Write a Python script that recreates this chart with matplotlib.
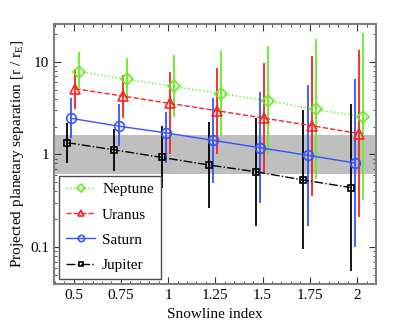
import matplotlib
matplotlib.use("Agg")
import matplotlib.pyplot as plt
from matplotlib.ticker import MultipleLocator, FixedLocator, FixedFormatter, LogLocator, NullFormatter
import numpy as np

plt.rcParams['font.family'] = ['Liberation Serif', 'DejaVu Serif']
plt.rcParams['mathtext.fontset'] = 'custom'
plt.rcParams['mathtext.rm'] = 'Liberation Serif'
plt.rcParams['mathtext.it'] = 'Liberation Serif:italic'

snowline = [0.5, 0.75, 1.0, 1.25, 1.5, 1.75, 2.0]
tick_labels = ["0.5", "0.75", "1", "1.25", "1.5", "1.75", "2"]

names = ["Neptune", "Uranus", "Saturn", "Jupiter"]
offsets = [0.03, 0.01, -0.012, -0.034]
colors = ["#66ee22", "#ff2020", "#3355ff", "black"]
styles = [":", "--", "-", "-."]
markers = ["D", "^", "o", "s"]
msizes = [6, 7, 7, 5]

neptune = [7.8, 6.44, 5.42, 4.52, 3.79, 3.06, 2.55]
neptune_hi = [12.7, 11.0, 11.7, 13.0, 14.7, 17.4, 20.2]
neptune_lo = [5.25, 3.92, 2.55, 1.58, 0.98, 0.54, 0.32]

uranus = [5.11, 4.26, 3.55, 2.96, 2.46, 2.04, 1.68]
uranus_hi = [8.26, 7.24, 7.7, 8.6, 9.7, 11.5, 13.3]
uranus_lo = [3.06, 2.49, 1.02, 1.0, 0.63, 0.355, 0.21]

saturn = [2.45, 2.02, 1.71, 1.42, 1.18, 0.98, 0.81]
saturn_hi = [4.02, 3.46, 2.89, 4.08, 4.7, 5.55, 6.44]
saturn_lo = [1.51, 1.23, 0.80, 0.495, 0.30, 0.171, 0.10]

jupiter = [1.34, 1.12, 0.93, 0.77, 0.65, 0.53, 0.44]
jupiter_hi = [2.2, 1.89, 2.02, 2.23, 2.49, 2.98, 3.52]
jupiter_lo = [0.81, 0.66, 0.437, 0.266, 0.168, 0.095, 0.056]

values = [neptune, uranus, saturn, jupiter]
highs = [neptune_hi, uranus_hi, saturn_hi, jupiter_hi]
lows = [neptune_lo, uranus_lo, saturn_lo, jupiter_lo]

band = (0.61, 1.64)

fig = plt.figure(figsize=(4.15, 3.24), dpi=100)
ax = fig.add_axes([0.130, 0.123, 0.776, 0.803])

ax.axhspan(band[0], band[1], color="0.75", lw=0, zorder=0)

for i in range(len(names)):
    x = np.array(snowline) + offsets[i]
    y = np.array(values[i])
    ax.vlines(x, lows[i], highs[i], color=colors[i], lw=1.3, zorder=2)
    ax.plot(x, y, linestyle=styles[i], color=colors[i], lw=1.0,
            marker=markers[i], markersize=msizes[i], markerfacecolor="none",
            markeredgewidth=1.2, label=names[i], zorder=3)

ax.set_yscale("log")
ax.set_xlim(0.396, 2.1)
ax.set_ylim(0.04, 25.5)

ax.xaxis.set_major_locator(FixedLocator(snowline))
ax.xaxis.set_major_formatter(FixedFormatter(tick_labels))
ax.xaxis.set_minor_locator(MultipleLocator(0.05))
ax.yaxis.set_major_locator(FixedLocator([0.1, 1, 10]))
ax.yaxis.set_major_formatter(FixedFormatter(["0.1", "1", "10"]))
ax.yaxis.set_minor_locator(LogLocator(base=10, subs=np.arange(2, 10)))
ax.yaxis.set_minor_formatter(NullFormatter())

ax.tick_params(which="both", direction="in", top=True, right=True, labelsize=11, color="0.2")
ax.tick_params(which="major", length=5, width=0.8)
ax.tick_params(which="minor", length=2.5, width=0.6)
for s in ax.spines.values():
    s.set_color("0.5")
    s.set_linewidth(1.5)

ax.set_xlabel("Snowline index", fontsize=11, labelpad=4)
ax.set_ylabel(r"Projected planetary separation [r / r$_\mathrm{E}$]", fontsize=11, labelpad=3)

leg = ax.legend(loc="lower left", fontsize=11, fancybox=False, framealpha=1,
                edgecolor="0.3", markerscale=0.65, handlelength=1.9,
                handletextpad=0.45, borderaxespad=0.35, labelspacing=0.75,
                borderpad=0.45)
leg.get_frame().set_linewidth(1.0)

plt.savefig("out.png", dpi=100)
